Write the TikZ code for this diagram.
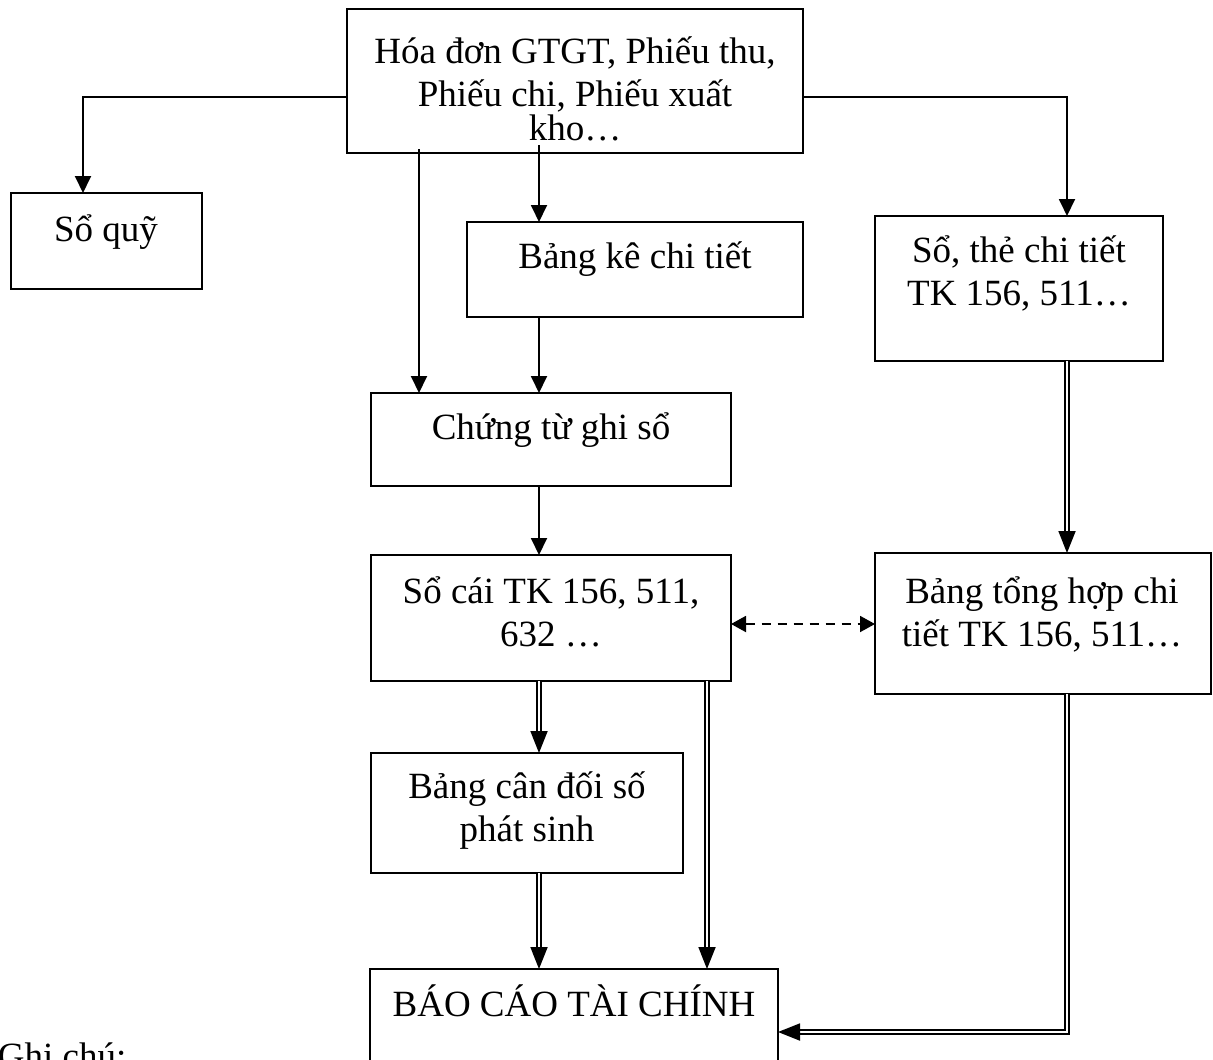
\documentclass[tikz,border=0pt]{standalone}
\usepackage{fontspec}
\setmainfont{Liberation Serif}
\usetikzlibrary{arrows.meta}

\tikzset{
  box/.style={draw, line width=1.9pt, inner sep=0pt, outer sep=0pt},
  txt/.style={inner sep=0pt, outer sep=0pt, align=center, anchor=base,
              font=\fontsize{37}{43}\selectfont},
  arr/.style={line width=1.9pt, -{Triangle[length=17pt,width=16pt]}},
  dbl/.style={line width=1.8pt, double, double distance=2.4pt,
              -{Triangle[length=22pt,width=17pt]}},
  dsh/.style={line width=1.9pt, dash pattern=on 9pt off 7pt,
              {Triangle[length=15pt,width=16pt]}-{Triangle[length=15pt,width=16pt]}},
}

\begin{document}
\begin{tikzpicture}[x=1pt,y=-1pt]
\useasboundingbox (0,0) rectangle (1213,1060);

% boxes
\node[box, minimum width=456pt, minimum height=144pt] (top) at (575,81) {};
\node[box, minimum width=191pt, minimum height=96pt]  (quy) at (106.5,241) {};
\node[box, minimum width=336pt, minimum height=95pt]  (bk)  at (635,269.5) {};
\node[box, minimum width=288pt, minimum height=145pt] (st)  at (1019,288.5) {};
\node[box, minimum width=360pt, minimum height=93pt]  (ct)  at (551,439.5) {};
\node[box, minimum width=360pt, minimum height=126pt] (sc)  at (551,618) {};
\node[box, minimum width=336pt, minimum height=141pt] (th)  at (1043,623.5) {};
\node[box, minimum width=312pt, minimum height=120pt] (cd)  at (527,813) {};
\node[box, minimum width=408pt, minimum height=111pt] (bc)  at (574,1024.5) {};

% box texts (base anchor sits on the last line)
\node[txt] (top-t) at (575,140) {Hóa đơn GTGT, Phiếu thu,\\Phiếu chi, Phiếu xuất\\[-9pt]kho…};
\node[txt] (quy-t) at (106,241) {Sổ quỹ};
\node[txt] (bk-t)  at (635,268) {Bảng kê chi tiết};
\node[txt] (st-t)  at (1019,305) {Sổ, thẻ chi tiết\\TK 156, 511…};
\node[txt] (ct-t)  at (551,439) {Chứng từ ghi sổ};
\node[txt] (sc-t)  at (551,646) {Sổ cái TK 156, 511,\\632 …};
\node[txt] (th-t)  at (1042,646) {Bảng tổng hợp chi\\tiết TK 156, 511…};
\node[txt] (cd-t)  at (527,841) {Bảng cân đối số\\phát sinh};
\node[txt] (bc-t)  at (574,1016) {BÁO CÁO TÀI CHÍNH};
\node[txt, anchor=base west] (note) at (-2,1068) {Ghi chú:};

% connector reference points
\coordinate (o1) at (419,149);
\coordinate (o2) at (539,145);
\coordinate (x7) at (707,0);
\coordinate (rx) at (1067,0);

% single arrows
\draw[arr] (top.west |- 0,97) -| ([xshift=-23.5pt]quy.north);
\draw[arr] (top.east |- 0,97) -| (rx |- st.north);
\draw[arr] (o2) -- (o2 |- bk.north);
\draw[arr] (o1) -- (o1 |- ct.north);
\draw[arr] (bk.south -| o2) -- (o2 |- ct.north);
\draw[arr] (ct.south -| o2) -- (o2 |- sc.north);

% dashed two-way link
\draw[dsh] (sc.east |- 0,624) -- (th.west |- 0,624);

% double arrows
\draw[dbl] (st.south -| rx) -- (rx |- th.north);
\draw[dbl] (sc.south -| o2) -- (o2 |- cd.north);
\draw[dbl] (sc.south -| x7) -- (x7 |- bc.north);
\draw[dbl] (cd.south -| o2) -- (o2 |- bc.north);
\draw[dbl] (th.south -| rx) |- (bc.east |- 0,1032);
\end{tikzpicture}
\end{document}
